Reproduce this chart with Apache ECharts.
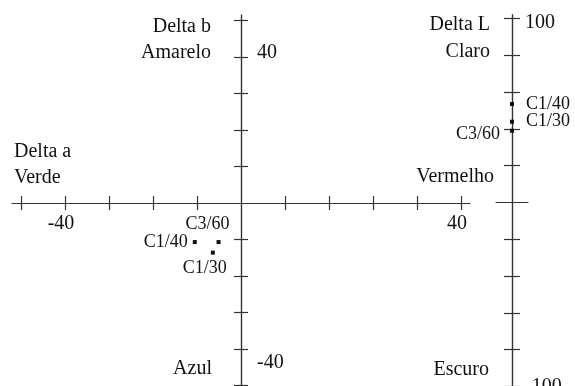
<!DOCTYPE html>
<html>
<head>
<meta charset="utf-8">
<script src="https://cdn.jsdelivr.net/npm/echarts@6/dist/echarts.min.js"></script>
<style>
html,body{margin:0;padding:0;background:#fff;}
#chart{width:575px;height:386px;}
</style>
</head>
<body>
<div id="chart"></div>
<script>
// ---- data ----
const samples = ['C1/40', 'C3/60', 'C1/30'];
const deltaA = [-10.5, -5.1, -6.4];
const deltaB = [-10.7, -10.7, -13.6];
const deltaL = [53.5, 39.0, 43.9];

const aTicks = [-50, -40, -30, -20, -10, 10, 20, 30, 40, 50];
const aTickLabelValues = [-40, 50];
const aTickLabelTexts = ['-40', '40'];

const bTicks = [-50, -40, -30, -20, -10, 10, 20, 30, 40, 50];
const bTickLabelValues = [40, -40];
const bTickLabelTexts = ['40', '-40'];

const lTicks = [-100, -80, -60, -40, -20, 20, 40, 60, 80, 100];
const lTickLabelValues = [100, -100];
const lTickLabelTexts = ['100', '-100'];

// ---- styles ----
const FONT = 'Liberation Serif';
const TXT = '#111';
const LINE = { color: '#333', width: 1.2 };
const A_RANGE = [-52, 52];
const B_RANGE = [-51.5, 51.5];
const L_RANGE = [-102, 102];

const abLabel = {
  'C1/40': { position: 'left', distance: 5 },
  'C3/60': { position: 'top', distance: 7, offset: [-11, 0] },
  'C1/30': { position: 'bottom', distance: 5, offset: [-8, 0] }
};
const lLabel = {
  'C1/40': { position: 'right', distance: 12 },
  'C1/30': { position: 'right', distance: 12 },
  'C3/60': { position: 'left', distance: 10, offset: [0, 4] }
};

function pick(values, texts) {
  return function (v) {
    const i = values.indexOf(v);
    return i < 0 ? '' : texts[i];
  };
}

const chart = echarts.init(document.getElementById('chart'), null, { renderer: 'canvas' });

function axis(extra) {
  return Object.assign({
    type: 'value',
    splitLine: { show: false },
    axisLine: { show: false },
    axisTick: { show: false },
    axisLabel: { show: false }
  }, extra);
}
function lineAxis(grid, range, pos, zeroIdx, ticks, len) {
  return axis({
    gridIndex: grid, min: range[0], max: range[1], position: pos,
    axisLine: { show: true, onZero: true, onZeroAxisIndex: zeroIdx, lineStyle: LINE },
    axisTick: ticks ? { show: true, length: len, lineStyle: LINE, customValues: ticks } : { show: false }
  });
}

const labelText = { fontFamily: FONT, fontSize: 20, color: TXT };
const G = { outerBoundsMode: 'none', containLabel: false };

const option = {
  animation: false,
  backgroundColor: '#fff',
  textStyle: { fontFamily: FONT },
  grid: [
    Object.assign({ left: 12.2, width: 457.6, top: 15, height: 376 }, G),     // a-b plane
    Object.assign({ left: 496, width: 32, top: 14.8, height: 375.4 }, G),     // L line
    Object.assign({ left: 12.2, width: 457.6, top: 0, height: 203 }, G),      // a labels
    Object.assign({ left: 12.2, width: 228.8, top: 15, height: 376 }, G),     // b labels
    Object.assign({ left: 400, width: 112, top: 14.8, height: 375.4 }, G)     // L labels
  ],
  xAxis: [
    lineAxis(0, A_RANGE, 'bottom', 0, aTicks, 7),
    lineAxis(0, A_RANGE, 'top', 0, aTicks, 7),
    lineAxis(1, [-1, 1], 'bottom', 2, null, 0),
    axis({
      gridIndex: 2, min: A_RANGE[0], max: A_RANGE[1], position: 'bottom',
      axisLabel: {
        show: true, customValues: aTickLabelValues, margin: 11,
        formatter: function (v) { return '{s|' + pick(aTickLabelValues, aTickLabelTexts)(v) + '}'; },
        rich: { s: Object.assign({ padding: [0, 8, 0, 0] }, labelText) }
      }
    }),
    axis({ gridIndex: 3, min: 0, max: 1, show: false }),
    axis({ gridIndex: 4, min: 0, max: 1, show: false })
  ],
  yAxis: [
    lineAxis(0, B_RANGE, 'left', 0, bTicks, 7),
    lineAxis(0, B_RANGE, 'right', 0, bTicks, 7),
    lineAxis(1, L_RANGE, 'left', 2, lTicks, 8),
    lineAxis(1, L_RANGE, 'right', 2, lTicks, 8),
    axis({ gridIndex: 2, min: 0, max: 1, show: false }),
    axis({
      gridIndex: 3, min: B_RANGE[0], max: B_RANGE[1], position: 'right',
      axisLabel: {
        show: true, customValues: bTickLabelValues, margin: 16,
        formatter: function (v) {
          const t = pick(bTickLabelValues, bTickLabelTexts)(v);
          return v > 0 ? '{up|' + t + '}' : '{dn|' + t + '}';
        },
        rich: {
          up: Object.assign({ padding: [0, 0, 8, 0] }, labelText),
          dn: Object.assign({ padding: [28, 0, 0, 0] }, labelText)
        }
      }
    }),
    axis({
      gridIndex: 4, min: L_RANGE[0], max: L_RANGE[1], position: 'right',
      axisLabel: {
        show: true, customValues: lTickLabelValues, margin: 13,
        formatter: function (v) {
          const t = pick(lTickLabelValues, lTickLabelTexts)(v);
          return v > 0 ? '{dn|' + t + '}' : '{n|' + t + '}';
        },
        rich: {
          dn: Object.assign({ padding: [8, 0, 0, 0] }, labelText),
          n: Object.assign({}, labelText)
        }
      }
    })
  ],
  graphic: [
    { type: 'text', x: 211, y: 27, style: { text: 'Delta b', align: 'right', verticalAlign: 'middle', font: '20px "Liberation Serif"', fill: TXT } },
    { type: 'text', x: 211, y: 53, style: { text: 'Amarelo', align: 'right', verticalAlign: 'middle', font: '20px "Liberation Serif"', fill: TXT } },
    { type: 'text', x: 14, y: 152, style: { text: 'Delta a', align: 'left', verticalAlign: 'middle', font: '20px "Liberation Serif"', fill: TXT } },
    { type: 'text', x: 14, y: 178, style: { text: 'Verde', align: 'left', verticalAlign: 'middle', font: '20px "Liberation Serif"', fill: TXT } },
    { type: 'text', x: 494, y: 177, style: { text: 'Vermelho', align: 'right', verticalAlign: 'middle', font: '20px "Liberation Serif"', fill: TXT } },
    { type: 'text', x: 490, y: 25, style: { text: 'Delta L', align: 'right', verticalAlign: 'middle', font: '20px "Liberation Serif"', fill: TXT } },
    { type: 'text', x: 490, y: 52, style: { text: 'Claro', align: 'right', verticalAlign: 'middle', font: '20px "Liberation Serif"', fill: TXT } },
    { type: 'text', x: 212, y: 369, style: { text: 'Azul', align: 'right', verticalAlign: 'middle', font: '20px "Liberation Serif"', fill: TXT } },
    { type: 'text', x: 489, y: 370, style: { text: 'Escuro', align: 'right', verticalAlign: 'middle', font: '20px "Liberation Serif"', fill: TXT } }
  ],
  series: [
    {
      type: 'scatter', xAxisIndex: 0, yAxisIndex: 0,
      symbol: 'rect', symbolSize: 4,
      itemStyle: { color: '#111', opacity: 1 },
      label: { show: true, formatter: '{b}', fontFamily: FONT, fontSize: 18, color: TXT, opacity: 1 },
      data: samples.map(function (n, i) {
        return { name: n, value: [deltaA[i], deltaB[i]], label: abLabel[n] };
      })
    },
    {
      type: 'scatter', xAxisIndex: 2, yAxisIndex: 2,
      symbol: 'rect', symbolSize: 4,
      itemStyle: { color: '#111', opacity: 1 },
      label: { show: true, formatter: '{b}', fontFamily: FONT, fontSize: 18, color: TXT, opacity: 1 },
      data: samples.map(function (n, i) {
        return { name: n, value: [0, deltaL[i]], label: lLabel[n] };
      })
    }
  ]
};
chart.setOption(option);
</script>
</body>
</html>
